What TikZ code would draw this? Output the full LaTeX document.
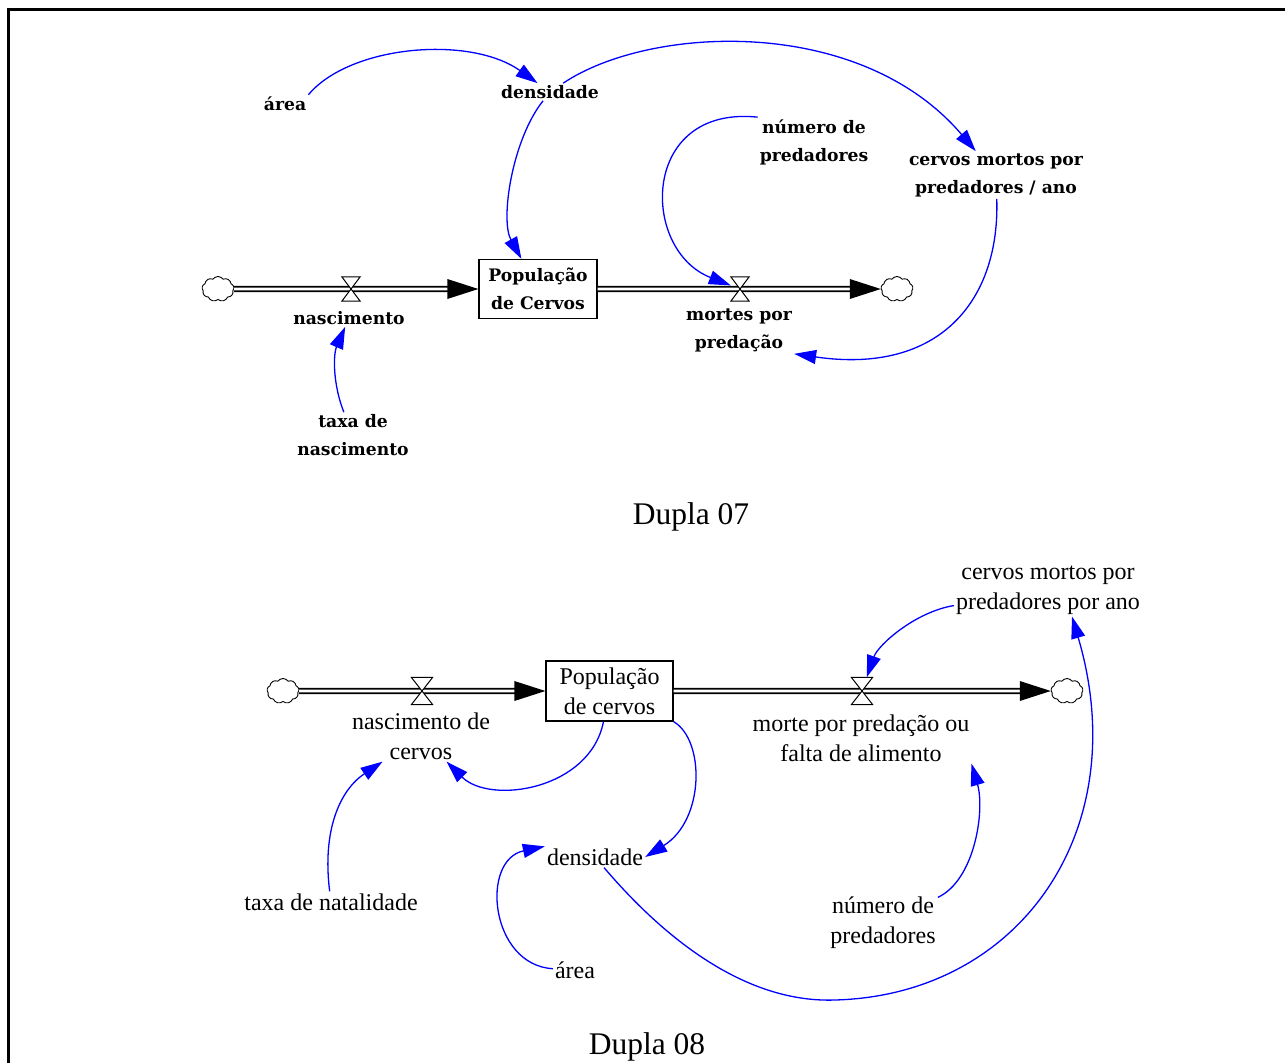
\documentclass[tikz,border=0pt]{standalone}
\usepackage{fontspec}
\setmainfont{Liberation Serif}
\newfontfamily\boldserif{DejaVu Serif}
\usetikzlibrary{arrows.meta,shapes.symbols}

\tikzset{
  topvar/.style={font=\boldserif\bfseries\fontsize{17.2}{28}\selectfont, align=center, inner sep=2pt},
  botvar/.style={font=\fontsize{24}{30}\selectfont, align=center, inner sep=2pt},
  caption/.style={font=\fontsize{31.5}{36}\selectfont},
  stock/.style={draw, line width=1.3pt},
  valve/.style={inner sep=0, minimum width=18pt, minimum height=24pt},
  cloudnode/.style={cloud, draw, cloud puffs=9, cloud puff arc=110, aspect=1.25,
    minimum width=32pt, minimum height=25pt, inner sep=0, line width=0.9pt},
  pipe/.style={double, double distance=2.6pt, line width=1.8pt, shorten >=28pt},
  info/.style={blue, line width=1.3pt, -{Triangle[length=22pt,width=14pt]}}
}

\begin{document}
\begin{tikzpicture}[x=1pt,y=-1pt]
  \useasboundingbox (0,0) rectangle (1285,1063);
  \draw[line width=3pt] (8.5,1063) -- (8.5,9.5) -- (1285,9.5);

  % Dupla 07
  \node[topvar] (area) at (285,104) {área};
  \node[topvar] (dens) at (550,92) {densidade};
  \node[topvar] (npred) at (814,142) {número de\\predadores};
  \node[topvar] (cmort) at (996,175) {cervos mortos por\\predadores / ano};
  \node[stock, topvar, minimum width=118pt, minimum height=59pt] (pop) at (538,289) {População\\de Cervos};
  \node[cloudnode] (cl) at (218,289) {};
  \node[cloudnode] (cr) at (897,289) {};
  \node[valve] (v1) at (351,289) {};
  \node[valve] (v2) at (740,289) {};
  \node[topvar] (nasc) at (349,318) {nascimento};
  \node[topvar] (mortes) at (739,330) {mortes por\\predação};
  \node[topvar] (taxa) at (353,435) {taxa de\\nascimento};
  \node[caption] (d07) at (691,517) {Dupla 07};

  % Dupla 08
  \node[botvar] (cmort2) at (1048,590) {cervos mortos por\\predadores por ano};
  \node[stock, botvar, minimum width=127pt, minimum height=60pt] (pop2) at (609.5,691) {População\\de cervos};
  \node[cloudnode] (cl2) at (283,691) {};
  \node[cloudnode] (cr2) at (1067,691) {};
  \node[valve, minimum width=21pt, minimum height=27pt] (v3) at (422,691) {};
  \node[valve, minimum width=21pt, minimum height=27pt] (v4) at (862,691) {};
  \node[botvar] (nasc2) at (421,736) {nascimento de\\cervos};
  \node[botvar] (morte) at (861,738) {morte por predação ou\\falta de alimento};
  \node[botvar] (dens2) at (595,857) {densidade};
  \node[botvar] (taxa2) at (331,902) {taxa de natalidade};
  \node[botvar] (area2) at (575,970) {área};
  \node[botvar] (npred2) at (883,923) {número de\\predadores};
  \node[caption] (d08) at (647,1047) {Dupla 08};

  % flows
  \draw[pipe] (cl.east) -- (pop.west);
  \draw[pipe] (pop.east) -- (cr.west);
  \draw[pipe] (cl2.east) -- (pop2.west);
  \draw[pipe] (pop2.east) -- (cr2.west);
  \foreach \t in {pop.west, cr.west, pop2.west, cr2.west}
    \fill (\t) -- ++(-31,-10) -- ++(0,20) -- cycle;
  \foreach \v in {v1,v2,v3,v4}
    \draw[fill=white, line width=1pt] (\v.north west) -- (\v.north east) -- (\v.south west) -- (\v.south east) -- cycle;

  % links
  \draw[info] (area.north east) .. controls (350,45) and (470,35) .. (dens);
  \draw[info] (dens) .. controls (512,140) and (500,220) .. (pop);
  \draw[info] (dens) .. controls (650,25) and (860,15) .. (cmort);
  \draw[info] (npred.north west) .. controls (640,105) and (640,250) .. (v2);
  \draw[info] (cmort) .. controls (1000,300) and (940,375) .. (mortes.south east);
  \draw[info] (taxa) .. controls (333,385) and (333,355) .. (nasc);

  \draw[info] (cmort2) .. controls (915,612) and (878,645) .. (v4);
  \draw[info] (pop2) .. controls (590,790) and (490,805) .. (nasc2);
  \draw[info] (pop2.south east) .. controls (705,740) and (705,820) .. (dens2.east);
  \draw[info] (taxa2) .. controls (322,830) and (340,790) .. (nasc2);
  \draw[info] (area2) .. controls (490,965) and (480,860) .. (dens2.north west);
  \draw[info] (dens2) .. controls (670,945) and (750,1003) .. (835,1000)
    .. controls (1020,995) and (1135,830) .. ([xshift=24pt]cmort2.south);
  \draw[info] (npred2) .. controls (975,880) and (985,810) .. (morte.south east);
\end{tikzpicture}
\end{document}
